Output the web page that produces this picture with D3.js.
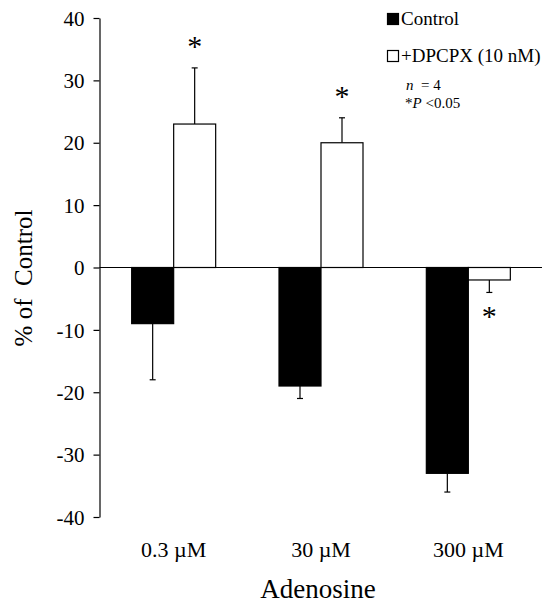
<!DOCTYPE html>
<html>
<head>
<meta charset="utf-8">
<script src="https://cdn.jsdelivr.net/npm/d3@7"></script>
<style>
  body { margin: 0; background: #fff; }
  text { font-family: "Liberation Serif", "Times New Roman", serif; fill: #000; }
</style>
</head>
<body>
<div id="chart"></div>
<script>
// data
var doses = ["0.3 \u00b5M", "30 \u00b5M", "300 \u00b5M"];
var controlVals = [-9, -19, -33];
var controlErr = [9, 2, 3];
var dpcpxVals = [23, 20, -2];
var dpcpxErr = [9, 4, 2];
var signif = [true, true, true];
var yTicks = [-40, -30, -20, -10, 0, 10, 20, 30, 40];

var width = 554, height = 607;
var svg = d3.select("#chart").append("svg")
    .attr("width", width).attr("height", height);

var xScale = d3.scaleBand().domain(doses).range([100, 542]).padding(0);
var yScale = d3.scaleLinear().domain([-40, 40]).range([517, 18]);
var barW = 42;

// y axis
var yAx = svg.append("g")
    .attr("transform", "translate(99.5,0)")
    .call(d3.axisLeft(yScale).tickValues(yTicks).tickSize(6).tickSizeOuter(0).tickFormat(function(d){ return String(d); }));
yAx.select(".domain").attr("stroke", "#000").attr("stroke-width", 1.2);
yAx.selectAll(".tick line").attr("stroke", "#000").attr("stroke-width", 1.2);
yAx.selectAll(".tick text")
    .attr("font-family", "Liberation Serif")
    .attr("font-size", 21).attr("x", -15).attr("dy", "0.34em");

// series table
var series = [
  {name: "Control", vals: controlVals, err: controlErr, fill: "#000", off: -barW},
  {name: "+DPCPX (10 nM)", vals: dpcpxVals, err: dpcpxErr, fill: "#fff", off: 0}
];

var g = svg.append("g");
series.forEach(function(s){
  var rows = doses.map(function(d, i){ return {dose: d, v: s.vals[i], e: s.err[i]}; });
  var cx = function(d){ return xScale(d.dose) + xScale.bandwidth()/2 + s.off; };
  // error bars (away from zero)
  g.selectAll(null).data(rows).join("line")
    .attr("x1", function(d){ return cx(d) + barW/2; })
    .attr("x2", function(d){ return cx(d) + barW/2; })
    .attr("y1", function(d){ return yScale(d.v); })
    .attr("y2", function(d){ return yScale(d.v + Math.sign(d.v) * d.e); })
    .attr("stroke", "#000").attr("stroke-width", 1.2);
  g.selectAll(null).data(rows).join("line")
    .attr("x1", function(d){ return cx(d) + barW/2 - 3; })
    .attr("x2", function(d){ return cx(d) + barW/2 + 3; })
    .attr("y1", function(d){ return yScale(d.v + Math.sign(d.v) * d.e); })
    .attr("y2", function(d){ return yScale(d.v + Math.sign(d.v) * d.e); })
    .attr("stroke", "#000").attr("stroke-width", 1.2);
  g.selectAll(null).data(rows).join("rect")
    .attr("x", function(d){ return cx(d); })
    .attr("y", function(d){ return yScale(Math.max(0, d.v)); })
    .attr("width", barW)
    .attr("height", function(d){ return Math.abs(yScale(d.v) - yScale(0)); })
    .attr("fill", s.fill).attr("stroke", "#000").attr("stroke-width", 1.2);
});

// zero line
svg.append("line")
  .attr("x1", 99.5).attr("x2", 542)
  .attr("y1", yScale(0)).attr("y2", yScale(0))
  .attr("stroke", "#000").attr("stroke-width", 1.2);

// asterisks on DPCPX bars
doses.forEach(function(d, i){
  if (!signif[i]) return;
  var v = dpcpxVals[i], tip = v + Math.sign(v) * dpcpxErr[i];
  var x = xScale(d) + xScale.bandwidth()/2 + barW/2;
  var y = v >= 0 ? yScale(tip) - 12 : yScale(tip) + 34;
  svg.append("text").attr("x", x).attr("y", y)
    .attr("text-anchor", "middle").attr("font-size", 30).text("*");
});

// x labels
svg.selectAll(".xlab").data(doses).join("text")
  .attr("class", "xlab")
  .attr("x", function(d){ return xScale(d) + xScale.bandwidth()/2; })
  .attr("y", 557)
  .attr("text-anchor", "middle").attr("font-size", 22)
  .text(function(d){ return d; });

svg.append("text").attr("x", 318).attr("y", 598)
  .attr("text-anchor", "middle").attr("font-size", 27).text("Adenosine");

svg.append("text")
  .attr("transform", "translate(32,278) rotate(-90)")
  .attr("text-anchor", "middle").attr("font-size", 25)
  .style("white-space", "pre").text("% of  Control");

// legend
var leg = svg.append("g");
series.forEach(function(s, i){
  var y = 13 + i * 37;
  leg.append("rect").attr("x", 387.5).attr("y", y + 0.5).attr("width", 11).attr("height", 11)
    .attr("fill", s.fill).attr("stroke", "#000").attr("stroke-width", 1.2);
  leg.append("text").attr("x", 401).attr("y", y + 12).attr("font-size", 19).text(s.name);
});
var t1 = leg.append("text").attr("x", 406).attr("y", 90).attr("font-size", 15)
  .style("white-space", "pre");
t1.append("tspan").attr("font-style", "italic").text("n");
t1.append("tspan").text("  = 4");
var t2 = leg.append("text").attr("x", 405).attr("y", 108).attr("font-size", 15);
t2.append("tspan").text("*");
t2.append("tspan").attr("font-style", "italic").text("P");
t2.append("tspan").text(" <0.05");
</script>
</body>
</html>
